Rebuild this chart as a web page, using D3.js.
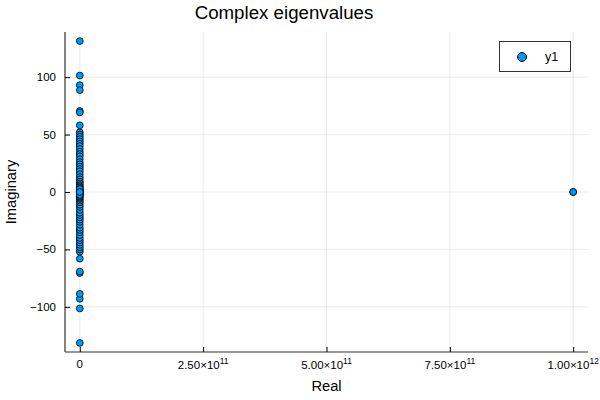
<!DOCTYPE html>
<html>
<head>
<meta charset="utf-8">
<script src="https://cdn.jsdelivr.net/npm/d3@7"></script>
<style>
  body { margin: 0; background: #fff; }
  text { font-family: "Liberation Sans", Arial, sans-serif; fill: #000; }
</style>
</head>
<body>
<svg id="chart" width="600" height="400"></svg>
<script>
const width = 600;
const height = 400;
const margin = { top: 32, right: 12, bottom: 48, left: 65 };

// eigenvalues (real part, imaginary part)
const realParts = [
  0, 0, 0, 0, 0, 0, 0, 0, 0, 0, 0, 0,
  0, 0, 0, 0, 0, 0, 0, 0, 0, 0, 0, 0, 0, 0, 0, 0, 0, 0, 0, 0,
  0, 0, 0, 0, 0, 0, 0, 0, 0, 0, 0, 0, 0, 0, 0, 0, 0, 0, 0, 0,
  0, 0, 0, 0, 0, 0, 0, 0, 0, 0, 0, 0, 0, 0, 0, 0, 0, 0, 0, 0,
  0, 0, 0, 0, 0, 0, 0, 0, 0, 0,
  1e12, 1e12
];
const imagParts = [
  131.4, 101.4, 93, 88.7, 70.5, 69.3, -131.4, -101.4, -93, -88.7, -70.5, -69.3,
  58, 52, 50, 48, 46, 44, 42, 40, 37.5, 35, 33, 31, 28.5, 26, 24, 22, 20, 18, 15.5, 13,
  -58, -52, -50, -48, -46, -44, -42, -40, -37.5, -35, -33, -31, -28.5, -26, -24, -22, -20, -18, -15.5, -13,
  11, 9, 7.5, 6, 5, 4, 3, 2, 1.2, 0.5, -11, -9, -7.5, -6, -5, -4, -3, -2, -1.2, -0.5,
  0, 0, 0.2, -0.2, 1.6, -1.6, 2.5, -2.5, 0, 0,
  0, 0
];

const xTicks = [0, 2.5e11, 5e11, 7.5e11, 1e12];
const xTickMantissa = ["0", "2.50", "5.00", "7.50", "1.00"];
const xTickExponent = ["", "11", "11", "11", "12"];
const yTicks = [-100, -50, 0, 50, 100];

const points = realParts.map((re, i) => ({ re: re, im: imagParts[i] }));

const svg = d3.select("#chart");
const plotW = width - margin.left - margin.right;
const plotH = height - margin.top - margin.bottom;

function padded(ext) {
  const pad = (ext[1] - ext[0]) * 0.03;
  return [ext[0] - pad, ext[1] + pad];
}

const x = d3.scaleLinear()
  .domain(padded(d3.extent(points, d => d.re)))
  .range([margin.left, margin.left + plotW]);
const y = d3.scaleLinear()
  .domain(padded(d3.extent(points, d => d.im)))
  .range([margin.top + plotH, margin.top]);

// grid
svg.append("g").selectAll("line.vgrid")
  .data(xTicks).enter().append("line")
  .attr("x1", d => x(d)).attr("x2", d => x(d))
  .attr("y1", margin.top).attr("y2", margin.top + plotH)
  .attr("stroke", "#000").attr("stroke-opacity", 0.08).attr("stroke-width", 1);
svg.append("g").selectAll("line.hgrid")
  .data(yTicks).enter().append("line")
  .attr("x1", margin.left).attr("x2", margin.left + plotW)
  .attr("y1", d => y(d)).attr("y2", d => y(d))
  .attr("stroke", "#000").attr("stroke-opacity", 0.08).attr("stroke-width", 1);

// axes (ticks pointing inward)
const xAxis = svg.append("g")
  .attr("transform", `translate(0,${margin.top + plotH})`)
  .call(d3.axisBottom(x).tickValues(xTicks).tickSize(-5).tickFormat(""));
const yAxis = svg.append("g")
  .attr("transform", `translate(${margin.left},0)`)
  .call(d3.axisLeft(y).tickValues(yTicks).tickSize(-5).tickFormat(""));
[xAxis, yAxis].forEach(a => {
  a.select(".domain").attr("stroke", "#333").attr("stroke-width", 1.2);
  a.selectAll(".tick line").attr("stroke", "#000");
});
xAxis.select(".domain").attr("d", `M${margin.left},0H${margin.left + plotW}`);
yAxis.select(".domain").attr("d", `M0,${margin.top}V${margin.top + plotH}`);

// x tick labels with superscripts
const xl = svg.append("g").selectAll("text")
  .data(xTicks).enter().append("text")
  .attr("x", d => x(d))
  .attr("y", (d, i) => xTickExponent[i] ? 368.5 : 367.5)
  .attr("text-anchor", "middle")
  .attr("font-size", 11.5);
xl.append("tspan").text((d, i) => xTickMantissa[i] + (xTickExponent[i] ? "×10" : ""));
xl.filter((d, i) => xTickExponent[i])
  .append("tspan")
  .attr("dy", -5)
  .attr("font-size", 8.5)
  .text(d => xTickExponent[xTicks.indexOf(d)]);

// y tick labels
svg.append("g").selectAll("text")
  .data(yTicks).enter().append("text")
  .attr("x", margin.left - 9)
  .attr("y", d => y(d))
  .attr("dy", "0.35em")
  .attr("text-anchor", "end")
  .attr("font-size", 11.5)
  .text(d => d < 0 ? "\u2212" + Math.abs(d) : d);

// points
svg.append("g").selectAll("circle")
  .data(points).enter().append("circle")
  .attr("cx", d => x(d.re))
  .attr("cy", d => y(d.im))
  .attr("r", 3.4)
  .attr("fill", "#009afa")
  .attr("stroke", "#000")
  .attr("stroke-width", 0.8);

// title and axis labels
svg.append("text")
  .attr("x", 284).attr("y", 18.5)
  .attr("text-anchor", "middle")
  .attr("font-size", 18.7)
  .text("Complex eigenvalues");
svg.append("text")
  .attr("x", margin.left + plotW / 2).attr("y", 391)
  .attr("text-anchor", "middle")
  .attr("font-size", 14.7)
  .text("Real");
svg.append("text")
  .attr("transform", `translate(15.5,${margin.top + plotH / 2}) rotate(-90)`)
  .attr("text-anchor", "middle")
  .attr("font-size", 14.7)
  .text("Imaginary");

// legend
const legend = svg.append("g");
legend.append("rect")
  .attr("x", 499.5).attr("y", 41.5)
  .attr("width", 71).attr("height", 30)
  .attr("fill", "#fff").attr("stroke", "#333").attr("stroke-width", 1);
legend.append("circle")
  .attr("cx", 522).attr("cy", 57)
  .attr("r", 4.5)
  .attr("fill", "#009afa").attr("stroke", "#000").attr("stroke-width", 1);
legend.append("text")
  .attr("x", 545).attr("y", 57).attr("dy", "0.35em")
  .attr("font-size", 12.5)
  .text("y1");
</script>
</body>
</html>
